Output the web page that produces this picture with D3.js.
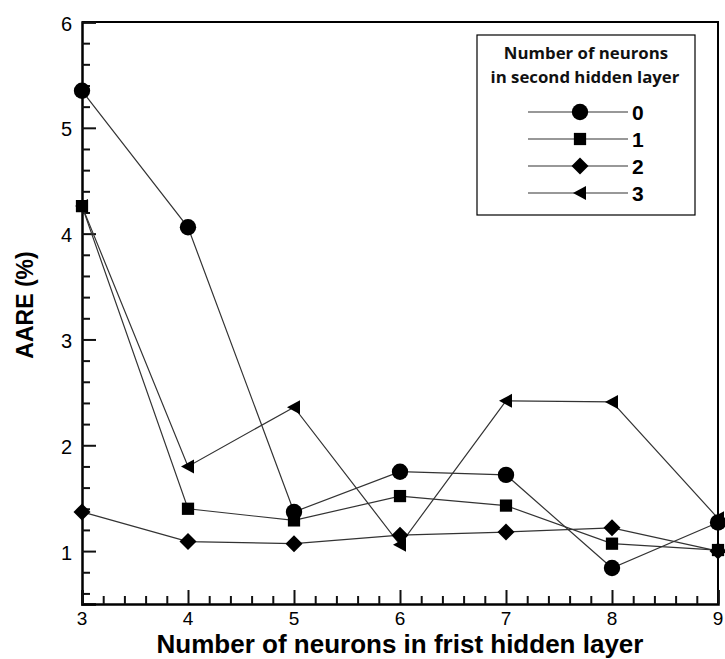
<!DOCTYPE html>
<html>
<head>
<meta charset="utf-8">
<script src="https://cdn.jsdelivr.net/npm/d3@7"></script>
<style>
  html, body { margin: 0; padding: 0; background: #fff; }
  svg { display: block; }
</style>
</head>
<body>
<svg id="chart" width="725" height="659"></svg>
<script>
// Neurons in the first hidden layer
const firstLayer = [3, 4, 5, 6, 7, 8, 9];

// AARE (%) for each number of neurons in the second hidden layer
const aare0 = [5.35, 4.06, 1.37, 1.75, 1.72, 0.84, 1.27];
const aare1 = [4.26, 1.40, 1.29, 1.52, 1.43, 1.07, 1.01];
const aare2 = [1.37, 1.09, 1.07, 1.15, 1.18, 1.22, 1.00];
const aare3 = [4.26, 1.80, 2.36, 1.06, 2.42, 2.41, 1.31];

const seriesLabels = ["0", "1", "2", "3"];
const seriesShapes = ["circle", "square", "diamond", "triangle"];

const xTicks = [3, 4, 5, 6, 7, 8, 9];
const yTicks = [1, 2, 3, 4, 5, 6];

const series = [aare0, aare1, aare2, aare3].map((vals, i) => ({
  label: seriesLabels[i],
  shape: seriesShapes[i],
  points: firstLayer.map((x, j) => ({ x, y: vals[j] }))
}));

const svg = d3.select("#chart");
const plotLeft = 82, plotRight = 718, plotTop = 22, plotBottom = 604;

const x = d3.scaleLinear().domain([3, 9]).range([plotLeft, plotRight]);
const y = d3.scaleLinear().domain([0.5, 6]).range([plotBottom, plotTop]);

// Marker path generator for the four symbol types
function markerPath(shape) {
  if (shape === "circle") return d3.symbol(d3.symbolCircle, 210)();
  if (shape === "square") return d3.symbol(d3.symbolSquare, 150)();
  if (shape === "diamond") {
    const r = 8.5;
    return `M0,${-r}L${r},0L0,${r}L${-r},0Z`;
  }
  // left-pointing triangle
  return "M-7,0L6,-7L6,7Z";
}

// Frame (top and right edges)
svg.append("path")
  .attr("d", `M${plotLeft},${plotTop}H${plotRight}V${plotBottom}`)
  .attr("fill", "none").attr("stroke", "#000").attr("stroke-width", 2);

// Y axis: major ticks every 1, minor every 0.2, pointing inward
svg.append("g").attr("transform", `translate(${plotLeft},0)`)
  .call(d3.axisRight(y).tickValues(yTicks).tickSize(14).tickFormat(""));
const yMinor = d3.range(0.6, 6.0001, 0.2).filter(v => Math.abs(v - Math.round(v)) > 0.01);
svg.append("g").attr("transform", `translate(${plotLeft},0)`)
  .call(d3.axisRight(y).tickValues(yMinor).tickSize(8).tickFormat(""))
  .call(g => g.select(".domain").remove());

// X axis: major ticks every 1, minor every 0.2, pointing inward
svg.append("g").attr("transform", `translate(0,${plotBottom})`)
  .call(d3.axisTop(x).tickValues(xTicks).tickSize(14).tickFormat(""));
const xMinor = d3.range(3.2, 9, 0.2).filter(v => Math.abs(v - Math.round(v)) > 0.01);
svg.append("g").attr("transform", `translate(0,${plotBottom})`)
  .call(d3.axisTop(x).tickValues(xMinor).tickSize(8).tickFormat(""))
  .call(g => g.select(".domain").remove());

svg.selectAll(".domain").attr("stroke-width", 2.5).attr("stroke", "#000");
svg.selectAll(".tick line").attr("stroke-width", 2).attr("stroke", "#111");

// Tick labels
svg.append("g").selectAll("text").data(yTicks).join("text")
  .attr("x", plotLeft - 10).attr("y", d => y(d) + 8.5)
  .attr("text-anchor", "end")
  .attr("font-family", "Liberation Sans, Arial, sans-serif").attr("font-size", 20)
  .text(d => d);
svg.append("g").selectAll("text").data(xTicks).join("text")
  .attr("x", d => x(d)).attr("y", plotBottom + 21)
  .attr("text-anchor", "middle")
  .attr("font-family", "Liberation Sans, Arial, sans-serif").attr("font-size", 19)
  .text(d => d);

// Axis titles
svg.append("text")
  .attr("x", 400).attr("y", 653)
  .attr("text-anchor", "middle")
  .attr("font-family", "Liberation Sans, Arial, sans-serif").attr("font-weight", "bold")
  .attr("font-size", 26)
  .text("Number of neurons in frist hidden layer");
svg.append("text")
  .attr("transform", "translate(33,305) rotate(-90)")
  .attr("text-anchor", "middle")
  .attr("font-family", "Liberation Sans, Arial, sans-serif").attr("font-weight", "bold")
  .attr("font-size", 23)
  .text("AARE (%)");

// Lines and markers
const line = d3.line().x(d => x(d.x)).y(d => y(d.y));
const plot = svg.append("g");
series.forEach(s => {
  plot.append("path").datum(s.points)
    .attr("d", line)
    .attr("fill", "none").attr("stroke", "#333").attr("stroke-width", 1.2);
});
series.forEach(s => {
  plot.append("g").selectAll("path").data(s.points).join("path")
    .attr("transform", d => `translate(${x(d.x)},${y(d.y)})`)
    .attr("d", markerPath(s.shape))
    .attr("fill", "#000");
});

// Legend
const lg = svg.append("g");
lg.append("rect").attr("x", 477).attr("y", 35).attr("width", 218).attr("height", 180)
  .attr("fill", "#fff").attr("stroke", "#000").attr("stroke-width", 1.2);
lg.append("text").attr("x", 586).attr("y", 59).attr("text-anchor", "middle")
  .attr("font-family", "Open Sans, sans-serif").attr("font-weight", "bold").attr("font-size", 16.8)
  .attr("fill", "#111").text("Number of neurons");
lg.append("text").attr("x", 585).attr("y", 83).attr("text-anchor", "middle")
  .attr("font-family", "Open Sans, sans-serif").attr("font-weight", "bold").attr("font-size", 16.8)
  .attr("fill", "#111").text("in second hidden layer");
const rows = lg.selectAll("g.row").data(series).join("g")
  .attr("class", "row")
  .attr("transform", (d, i) => `translate(0,${112 + i * 27})`);
rows.append("line").attr("x1", 528).attr("x2", 628)
  .attr("stroke", "#333").attr("stroke-width", 1.2);
rows.append("path").attr("transform", "translate(580,0)")
  .attr("d", d => markerPath(d.shape)).attr("fill", "#000");
rows.append("text").attr("x", 632).attr("y", 8)
  .attr("font-family", "Liberation Sans, Arial, sans-serif").attr("font-weight", "bold")
  .attr("font-size", 21).text(d => d.label);
</script>
</body>
</html>
